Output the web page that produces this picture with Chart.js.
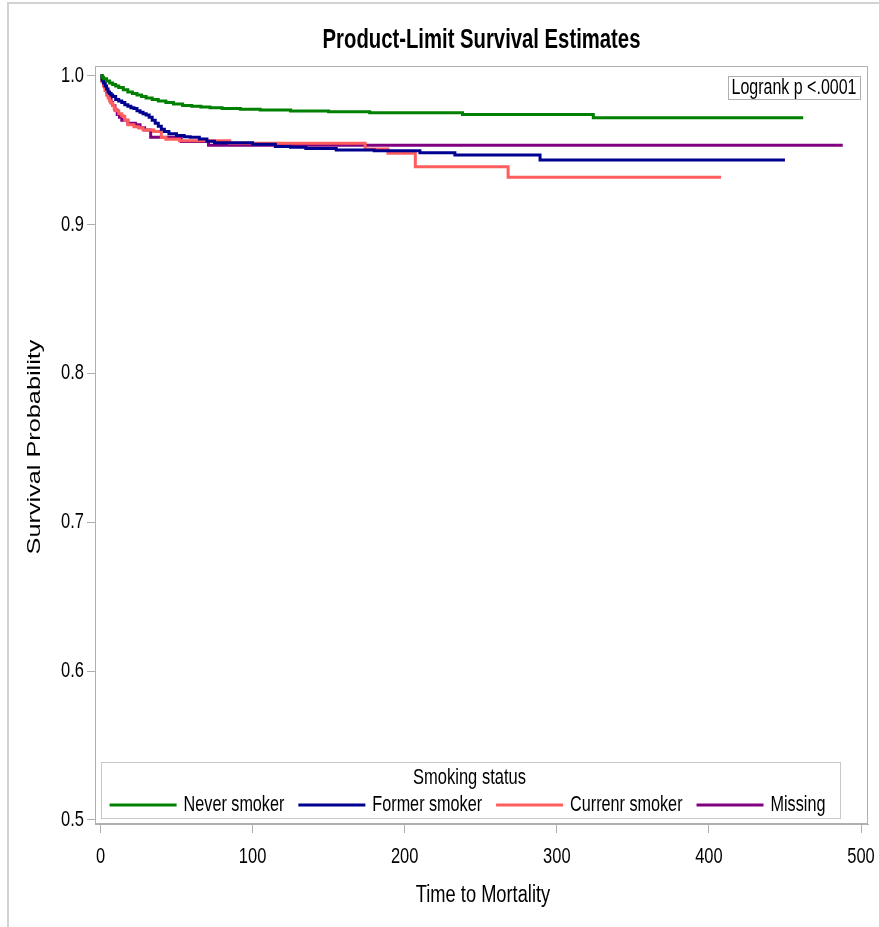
<!DOCTYPE html>
<html>
<head>
<meta charset="utf-8">
<script src="https://cdn.jsdelivr.net/npm/chart.js@4.4.1/dist/chart.umd.min.js"></script>
<style>
html,body{margin:0;padding:0;background:#fff;}
canvas{display:block;}
</style>
</head>
<body>
<canvas id="c" width="879" height="927"></canvas>
<script>
// ---- Data ----
const xTicks = [0, 100, 200, 300, 400, 500];
const yTicks = [0.5, 0.6, 0.7, 0.8, 0.9, 1.0];

const seriesLabels = ['Never smoker', 'Former smoker', 'Currenr smoker', 'Missing'];
const seriesColors = ['#008000', '#000090', '#FF5E5E', '#800080'];

const neverTime = [0, 1, 2, 4, 6, 8, 10, 12, 15, 18, 21, 24, 27, 30, 34, 38, 43, 48, 54, 60, 66, 72, 80, 92, 105, 125, 150, 177, 238, 324, 462];
const neverSurv = [1.0, 0.999, 0.998, 0.9965, 0.995, 0.994, 0.993, 0.992, 0.9905, 0.989, 0.988, 0.987, 0.986, 0.985, 0.984, 0.983, 0.982, 0.981, 0.980, 0.9795, 0.979, 0.9785, 0.978, 0.9774, 0.977, 0.9763, 0.9758, 0.9751, 0.974, 0.9718, 0.9718];

const formerTime = [0, 1, 2, 3, 4, 5, 6, 7, 8, 10, 12, 14, 16, 18, 20, 22, 24, 26, 28, 30, 32, 34, 36, 38, 40, 42, 45, 50, 55, 59, 65, 70, 75, 100, 115, 125, 135, 155, 180, 210, 233, 289, 450];
const formerSurv = [1.0, 0.997, 0.995, 0.993, 0.991, 0.989, 0.988, 0.987, 0.986, 0.984, 0.983, 0.982, 0.9805, 0.9795, 0.9785, 0.978, 0.9765, 0.9755, 0.9745, 0.9735, 0.972, 0.970, 0.968, 0.966, 0.964, 0.9625, 0.961, 0.9598, 0.959, 0.9586, 0.9575, 0.956, 0.955, 0.954, 0.9525, 0.9519, 0.951, 0.950, 0.9496, 0.9483, 0.9467, 0.9434, 0.9434];

const currentTime = [0, 1, 2, 3, 4, 5, 6, 7, 8, 9, 10, 12, 14, 15, 16, 18, 22, 25, 28, 35, 40, 43, 52, 85, 174, 189, 207, 268, 408];
const currentSurv = [1.0, 0.996, 0.993, 0.990, 0.987, 0.985, 0.983, 0.9815, 0.980, 0.978, 0.9765, 0.9745, 0.973, 0.9725, 0.970, 0.967, 0.9657, 0.965, 0.9635, 0.9625, 0.9585, 0.9573, 0.9563, 0.9546, 0.9508, 0.9479, 0.9389, 0.9317, 0.9317];

const missingTime = [0, 1, 2, 3, 4, 5, 6, 7, 8, 9.5, 11, 12.5, 14, 18, 23, 26, 29, 33, 53, 71, 488];
const missingSurv = [1.0, 0.998, 0.995, 0.992, 0.989, 0.987, 0.985, 0.982, 0.980, 0.977, 0.974, 0.972, 0.970, 0.968, 0.967, 0.965, 0.9635, 0.9586, 0.9557, 0.9532, 0.9532];

const titleText = 'Product-Limit Survival Estimates';
const xTitle = 'Time to Mortality';
const yTitle = 'Survival Probability';
const legendTitle = 'Smoking status';
const statText = 'Logrank p <.0001';

// ---- Build ----
const FONT = "'Liberation Sans', Arial, sans-serif";
const K = 1.33; // vertical stretch of text seen in the reference
const times = [neverTime, formerTime, currentTime, missingTime];
const survs = [neverSurv, formerSurv, currentSurv, missingSurv];

const datasets = seriesLabels.map((lab, k) => ({
  label: lab,
  data: times[k].map((t, i) => ({x: t, y: survs[k][i]})),
  borderColor: seriesColors[k],
  backgroundColor: seriesColors[k],
  borderWidth: 3,
  pointRadius: 0,
  stepped: 'before',
  fill: false,
  tension: 0
}));
const frameColor = '#b0b0b0';

function txt(c, s, x, y, size, align, bold) {
  c.save();
  c.translate(x, y);
  c.scale(1, K);
  c.font = (bold ? 'bold ' : '') + size + 'px ' + FONT;
  c.textAlign = align || 'center';
  c.textBaseline = 'middle';
  c.fillStyle = '#000';
  c.fillText(s, 0, 0);
  c.restore();
}

const decor = {
  id: 'decor',
  beforeDraw(chart) {
    const c = chart.ctx;
    c.save();
    c.fillStyle = '#fff';
    c.fillRect(0, 0, chart.width, chart.height);
    c.strokeStyle = '#d2d2d2';
    c.lineWidth = 2;
    c.beginPath();
    c.moveTo(8, 927); c.lineTo(8, 3); c.lineTo(879, 3);
    c.stroke();
    c.restore();
  },
  afterDraw(chart) {
    const c = chart.ctx;
    const a = chart.chartArea;
    const xs = chart.scales.x, ys = chart.scales.y;
    c.save();
    // frame
    c.strokeStyle = frameColor;
    c.lineWidth = 1;
    c.strokeRect(a.left + 0.5, a.top + 0.5, a.right - a.left - 1, a.bottom - a.top - 1);

    // tick labels (positions from the chart scales)
    xTicks.forEach(v => txt(c, String(v), xs.getPixelForValue(v), 857, 16.5, 'center'));
    yTicks.forEach(v => txt(c, v.toFixed(1), 84, ys.getPixelForValue(v), 16.5, 'right'));

    // title
    txt(c, titleText, (a.left + a.right) / 2, 41, 20.3, 'center', true);
    // x title
    txt(c, xTitle, 483, 895, 18.3, 'center');
    // y title (rotated, stretched along its length)
    c.save();
    c.translate(35, 447);
    c.rotate(-Math.PI / 2);
    c.scale(K, 1);
    c.font = '19px ' + FONT;
    c.textAlign = 'center';
    c.textBaseline = 'middle';
    c.fillStyle = '#000';
    c.fillText(yTitle, 0, 0);
    c.restore();

    // stat box
    c.font = '16px ' + FONT;
    const sw = c.measureText(statText).width;
    const bw = sw + 7, bh = 23;
    const bx = a.right - 8 - bw, by = 76;
    c.fillStyle = '#fff';
    c.fillRect(bx, by, bw, bh);
    c.strokeStyle = frameColor;
    c.strokeRect(bx + 0.5, by + 0.5, bw, bh);
    txt(c, statText, bx + 3.5, by + 12, 16, 'left');

    // legend box
    const lx = 101, ly = 762, lw = 739, lh = 56;
    c.fillStyle = '#fff';
    c.fillRect(lx, ly, lw, lh);
    c.strokeStyle = '#c8c8c8';
    c.lineWidth = 1;
    c.strokeRect(lx + 0.5, ly + 0.5, lw, lh);
    txt(c, legendTitle, lx + lw / 2 - 1, 778, 16.5, 'center');
    const lineLen = 67, g1 = 7, g2 = 14;
    c.font = '16.2px ' + FONT;
    const widths = seriesLabels.map(s => c.measureText(s).width);
    const total = widths.reduce((s, w) => s + w + lineLen + g1, 0) + g2 * (seriesLabels.length - 1);
    let x = lx + (lw - total) / 2 - 3;
    seriesLabels.forEach((s, i) => {
      c.strokeStyle = seriesColors[i];
      c.lineWidth = 3;
      c.beginPath();
      c.moveTo(x, 805); c.lineTo(x + lineLen, 805);
      c.stroke();
      txt(c, s, x + lineLen + g1, 805, 16.2, 'left');
      x += lineLen + g1 + widths[i] + g2;
    });
    c.restore();
  }
};

new Chart(document.getElementById('c'), {
  type: 'line',
  data: {datasets},
  options: {
    responsive: false,
    animation: false,
    devicePixelRatio: 1,
    layout: {padding: {top: 66, right: 11, left: 0, bottom: 0}},
    plugins: {legend: {display: false}, title: {display: false}, tooltip: {enabled: false}},
    scales: {
      x: {
        type: 'linear',
        min: -3.6, max: 504.6,
        afterBuildTicks: s => { s.ticks = xTicks.map(v => ({value: v})); },
        afterFit: s => { s.height = 103; s.paddingLeft = 0; s.paddingRight = 0; },
        grid: {drawOnChartArea: false, drawTicks: true, tickLength: 9, color: frameColor},
        border: {display: true, color: frameColor},
        ticks: {display: false}
      },
      y: {
        type: 'linear',
        min: 0.4973, max: 1.0065,
        afterBuildTicks: s => { s.ticks = yTicks.map(v => ({value: v})); },
        afterFit: s => { s.width = 95; s.paddingTop = 0; s.paddingBottom = 0; },
        grid: {drawOnChartArea: false, drawTicks: true, tickLength: 8, color: frameColor},
        border: {display: true, color: frameColor},
        ticks: {display: false}
      }
    }
  },
  plugins: [decor]
});
</script>
</body>
</html>
